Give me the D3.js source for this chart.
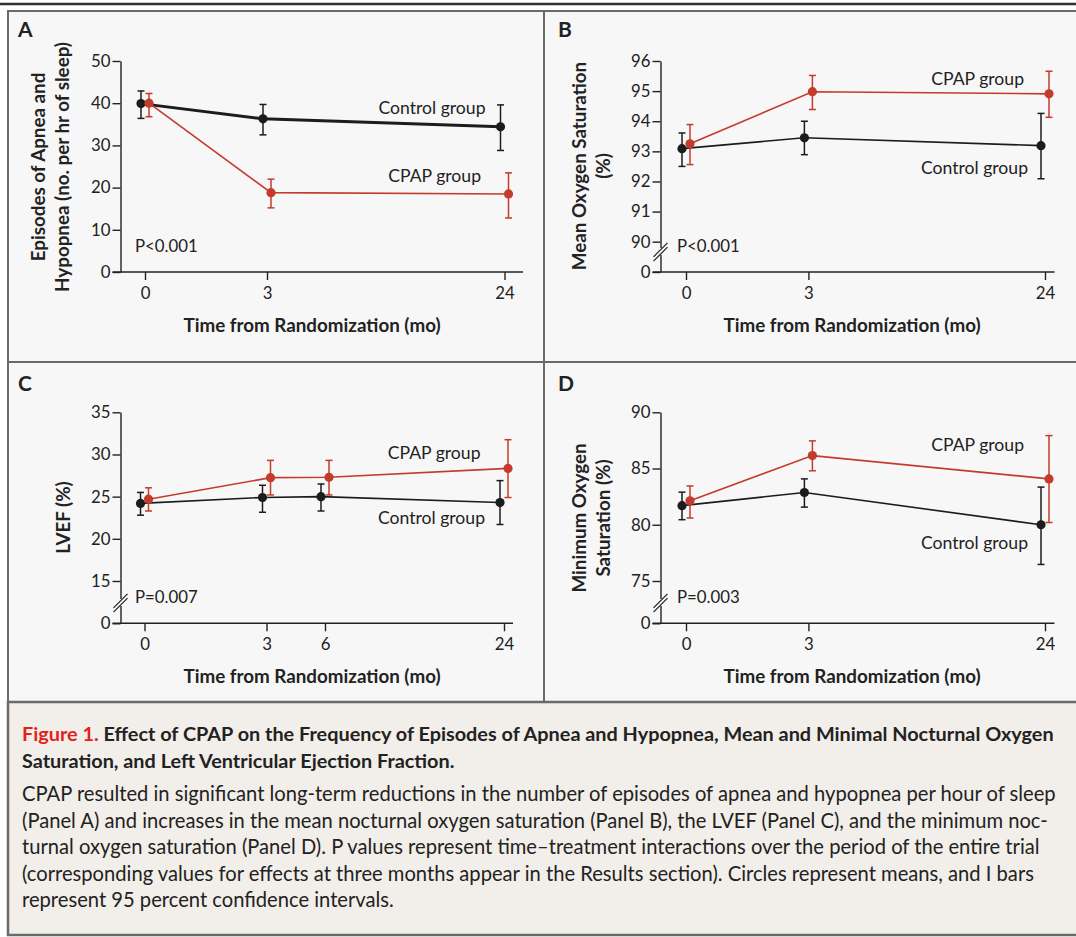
<!DOCTYPE html>
<html>
<head>
<meta charset="utf-8">
<script src="https://cdn.jsdelivr.net/npm/d3@7"></script>
<style>
  body { margin: 0; background: #fff; }
  text { font-family: Lato, "Open Sans", sans-serif; fill: #222; }
</style>
</head>
<body>
<svg id="fig"></svg>
<script>
// ---- values ----
// Panel A: episodes of apnea and hypopnea (no. per hr of sleep)
var timesA = [0, 3, 24];
var controlA = [39.9, 36.3, 34.4];
var controlA_lo = [36.4, 32.5, 28.8];
var controlA_hi = [42.9, 39.7, 39.6];
var cpapA = [40.0, 18.8, 18.5];
var cpapA_lo = [36.8, 15.2, 12.8];
var cpapA_hi = [42.3, 22.0, 23.5];
var yTicksA = [0, 10, 20, 30, 40, 50];

// Panel B: mean oxygen saturation (%)
var timesB = [0, 3, 24];
var controlB = [93.09, 93.45, 93.19];
var controlB_lo = [92.5, 92.89, 92.09];
var controlB_hi = [93.61, 94.0, 94.26];
var cpapB = [93.25, 94.98, 94.91];
var cpapB_lo = [92.56, 94.39, 94.13];
var cpapB_hi = [93.89, 95.52, 95.66];
var yTicksB = [0, 90, 91, 92, 93, 94, 95, 96];

// Panel C: LVEF (%)
var timesC = [0, 3, 6, 24];
var controlC = [24.2, 24.9, 25.0, 24.3];
var controlC_lo = [22.8, 23.15, 23.3, 21.7];
var controlC_hi = [25.5, 26.35, 26.5, 26.9];
var cpapC = [24.7, 27.25, 27.3, 28.35];
var cpapC_lo = [23.3, 25.2, 25.2, 24.9];
var cpapC_hi = [26.05, 29.3, 29.3, 31.75];
var yTicksC = [0, 15, 20, 25, 30, 35];

// Panel D: minimum oxygen saturation (%)
var timesD = [0, 3, 24];
var controlD = [81.7, 82.87, 80.0];
var controlD_lo = [80.45, 81.57, 76.47];
var controlD_hi = [82.9, 84.08, 83.35];
var cpapD = [82.13, 86.15, 84.08];
var cpapD_lo = [80.6, 84.8, 80.2];
var cpapD_hi = [83.45, 87.46, 87.93];
var yTicksD = [0, 75, 80, 85, 90];

var captionTitle = [
  "Effect of CPAP on the Frequency of Episodes of Apnea and Hypopnea, Mean and Minimal Nocturnal Oxygen",
  "Saturation, and Left Ventricular Ejection Fraction."
];
var captionBody = [
  "CPAP resulted in significant long-term reductions in the number of episodes of apnea and hypopnea per hour of sleep",
  "(Panel A) and increases in the mean nocturnal oxygen saturation (Panel B), the LVEF (Panel C), and the minimum noc-",
  "turnal oxygen saturation (Panel D). P values represent time\u2013treatment interactions over the period of the entire trial",
  "(corresponding values for effects at three months appear in the Results section). Circles represent means, and I bars",
  "represent 95 percent confidence intervals."
];

// ---- layout ----
var width = 1076, height = 937;
var red = "#c43b2d", black = "#1c1c1c", panelBg = "#f7f7f7", capBg = "#f2eee9", frame = "#6a6a6a";

var svg = d3.select("#fig").attr("width", width).attr("height", height);

svg.append("rect").attr("width", width).attr("height", height).attr("fill", "#fff");
// panel area + caption box
svg.append("rect").attr("x", 8).attr("y", 11).attr("width", 1080).attr("height", 691)
    .attr("fill", panelBg).attr("stroke", frame).attr("stroke-width", 2);
svg.append("rect").attr("x", 8).attr("y", 702).attr("width", 1080).attr("height", 233)
    .attr("fill", capBg).attr("stroke", frame).attr("stroke-width", 2.5);
svg.append("line").attr("x1", 544).attr("x2", 544).attr("y1", 11).attr("y2", 702)
    .attr("stroke", frame).attr("stroke-width", 2);
svg.append("line").attr("x1", 8).attr("x2", 1076).attr("y1", 362).attr("y2", 362)
    .attr("stroke", frame).attr("stroke-width", 2);
svg.append("line").attr("x1", 0).attr("x2", 1076).attr("y1", 4).attr("y2", 4)
    .attr("stroke", "#333").attr("stroke-width", 2.5);

function series(t, m, lo, hi) {
  return t.map(function(d, i) { return {t: d, m: m[i], lo: lo[i], hi: hi[i]}; });
}

var panels = [
  {letter: "A", ox: 0, oy: 0, letterY: 37, times: timesA, xRange: [145, 267, 504.5], axisEnd: 523,
   yDomain: [0, 50], yRange: [272, 61], yTicks: yTicksA, brk: false,
   titles: ["Episodes of Apnea and", "Hypopnea (no. per hr of sleep)"], titleX: [38.5, 62], titleY: 167,
   control: series(timesA, controlA, controlA_lo, controlA_hi),
   cpap: series(timesA, cpapA, cpapA_lo, cpapA_hi), controlW: 3,
   pText: "P<0.001", pX: 135, pY: 251.5,
   ctlLabel: [485.5, 113.5], cpapLabel: [481, 181.5]},
  {letter: "B", ox: 540, oy: 0, letterY: 37, times: timesB, xRange: [146, 268.4, 505], axisEnd: 514.5,
   yDomain: [0, 90, 96], yRange: [272, 241.7, 61], yTicks: yTicksB, brk: true,
   titles: ["Mean Oxygen Saturation", "(%)"], titleX: [39.5, 63.5], titleY: 166,
   control: series(timesB, controlB, controlB_lo, controlB_hi),
   cpap: series(timesB, cpapB, cpapB_lo, cpapB_hi), controlW: 1.6,
   pText: "P<0.001", pX: 137, pY: 251.5,
   ctlLabel: [488, 173.5], cpapLabel: [484, 85]},
  {letter: "C", ox: 0, oy: 351, letterY: 40, times: timesC, xRange: [144.5, 266.5, 325, 504], axisEnd: 513,
   yDomain: [0, 15, 35], yRange: [272.3, 230, 61.3], yTicks: yTicksC, brk: true,
   titles: ["LVEF (%)"], titleX: [63], titleY: 166.5,
   control: series(timesC, controlC, controlC_lo, controlC_hi),
   cpap: series(timesC, cpapC, cpapC_lo, cpapC_hi), controlW: 1.6,
   pText: "P=0.007", pX: 135, pY: 251.5,
   ctlLabel: [485, 173], cpapLabel: [480.5, 108.3]},
  {letter: "D", ox: 540, oy: 351, letterY: 40, times: timesD, xRange: [146, 268.4, 505], axisEnd: 514.5,
   yDomain: [0, 75, 90], yRange: [272.3, 230, 61.3], yTicks: yTicksD, brk: true,
   titles: ["Minimum Oxygen", "Saturation (%)"], titleX: [39.5, 63.5], titleY: 167,
   control: series(timesD, controlD, controlD_lo, controlD_hi),
   cpap: series(timesD, cpapD, cpapD_lo, cpapD_hi), controlW: 1.6,
   pText: "P=0.003", pX: 137, pY: 251.5,
   ctlLabel: [488, 198], cpapLabel: [484, 100]}
];

var axisX = 120.5;

panels.forEach(function(p) {
  var g = svg.append("g").attr("transform", "translate(" + p.ox + "," + p.oy + ")");
  var x = d3.scaleLinear().domain(p.times).range(p.xRange);
  var y = d3.scaleLinear().domain(p.yDomain).range(p.yRange);
  var y0 = y(0);

  g.append("text").attr("x", 18).attr("y", p.letterY)
      .style("font-size", "21px").style("font-weight", "bold").text(p.letter);

  // y axis
  var ya = g.append("g").attr("transform", "translate(" + axisX + ",0)")
      .call(d3.axisLeft(y).tickValues(p.yTicks).tickSize(8).tickSizeOuter(0).tickPadding(2));
  ya.selectAll("text").style("font-size", "16.8px").style("font-family", "Lato, sans-serif").attr("fill", "#222");
  ya.selectAll("line, path").attr("stroke", "#222").attr("stroke-width", 1.4);

  // x axis
  g.append("line").attr("x1", axisX - 8).attr("x2", p.axisEnd).attr("y1", y0).attr("y2", y0)
      .attr("stroke", "#222").attr("stroke-width", 1.4);
  var xa = g.append("g").attr("transform", "translate(0," + y0 + ")")
      .call(d3.axisBottom(x).tickValues(p.times).tickSize(8).tickSizeOuter(0).tickPadding(7)
        .tickFormat(d3.format("d")));
  xa.select(".domain").remove();
  xa.selectAll("text").style("font-size", "16.8px").style("font-family", "Lato, sans-serif").attr("fill", "#222");
  xa.selectAll("line").attr("stroke", "#222").attr("stroke-width", 1.4);

  // axis break
  if (p.brk) {
    var by = 252;
    g.append("rect").attr("x", axisX - 3).attr("y", by - 4).attr("width", 6).attr("height", 7)
        .attr("fill", panelBg);
    [-2.2, 2.2].forEach(function(o) {
      g.append("line").attr("x1", axisX - 7).attr("x2", axisX + 7)
          .attr("y1", by + o + 7).attr("y2", by + o - 7)
          .attr("stroke", "#222").attr("stroke-width", 1.2);
    });
  }

  g.append("text").attr("x", 312).attr("y", 331.5).attr("text-anchor", "middle")
      .style("font-size", "18.8px").style("font-weight", "bold")
      .text("Time from Randomization (mo)");

  p.titles.forEach(function(t, i) {
    g.append("text")
        .attr("transform", "translate(" + p.titleX[i] + "," + p.titleY + ") rotate(-90)")
        .attr("text-anchor", "middle").attr("dy", "0.36em")
        .style("font-size", "18.8px").style("font-weight", "bold").text(t);
  });

  g.append("text").attr("x", p.pX).attr("y", p.pY).style("font-size", "16.8px").text(p.pText);

  // series
  function drawSeries(data, color, dx, lw) {
    var line = d3.line().x(function(d) { return x(d.t) + dx; }).y(function(d) { return y(d.m); });
    g.append("path").datum(data).attr("d", line).attr("fill", "none")
        .attr("stroke", color).attr("stroke-width", lw);
    var eb = g.append("g").selectAll("g").data(data).enter().append("g");
    eb.append("line").attr("x1", function(d) { return x(d.t) + dx; })
        .attr("x2", function(d) { return x(d.t) + dx; })
        .attr("y1", function(d) { return y(d.lo); }).attr("y2", function(d) { return y(d.hi); })
        .attr("stroke", color).attr("stroke-width", 1.5);
    ["lo", "hi"].forEach(function(k) {
      eb.append("line").attr("x1", function(d) { return x(d.t) + dx - 3.5; })
          .attr("x2", function(d) { return x(d.t) + dx + 3.5; })
          .attr("y1", function(d) { return y(d[k]); }).attr("y2", function(d) { return y(d[k]); })
          .attr("stroke", color).attr("stroke-width", 1.5);
    });
    eb.append("circle").attr("cx", function(d) { return x(d.t) + dx; })
        .attr("cy", function(d) { return y(d.m); }).attr("r", 4.6).attr("fill", color);
  }
  drawSeries(p.control, black, -4, p.controlW);
  drawSeries(p.cpap, red, 4, 1.6);

  g.append("text").attr("x", p.ctlLabel[0]).attr("y", p.ctlLabel[1]).attr("text-anchor", "end")
      .style("font-size", "17.6px").text("Control group");
  g.append("text").attr("x", p.cpapLabel[0]).attr("y", p.cpapLabel[1]).attr("text-anchor", "end")
      .style("font-size", "17.6px").text("CPAP group");
});

// ---- caption ----
var cap = svg.append("g");
var t1 = cap.append("text").attr("x", 22).attr("y", 741)
    .style("font-size", "18px").style("font-weight", "bold");
t1.append("tspan").attr("fill", "#e0231c").style("fill", "#e0231c").text("Figure 1. ");
t1.append("tspan").text(captionTitle[0]);
var fitT = 18 * 1032 / t1.node().getComputedTextLength();
t1.style("font-size", fitT + "px");
cap.append("text").attr("x", 22).attr("y", 767.5).style("font-size", fitT + "px")
    .style("font-weight", "bold").text(captionTitle[1]);

var body = cap.selectAll("text.body").data(captionBody).enter().append("text")
    .attr("class", "body").attr("x", 22)
    .attr("y", function(d, i) { return 801 + i * 26.6; })
    .style("font-size", "18px").attr("fill", "#333").text(function(d) { return d; });
var fitB = 18 * 1034 / body.nodes()[0].getComputedTextLength();
body.style("font-size", fitB + "px");
</script>
</body>
</html>
